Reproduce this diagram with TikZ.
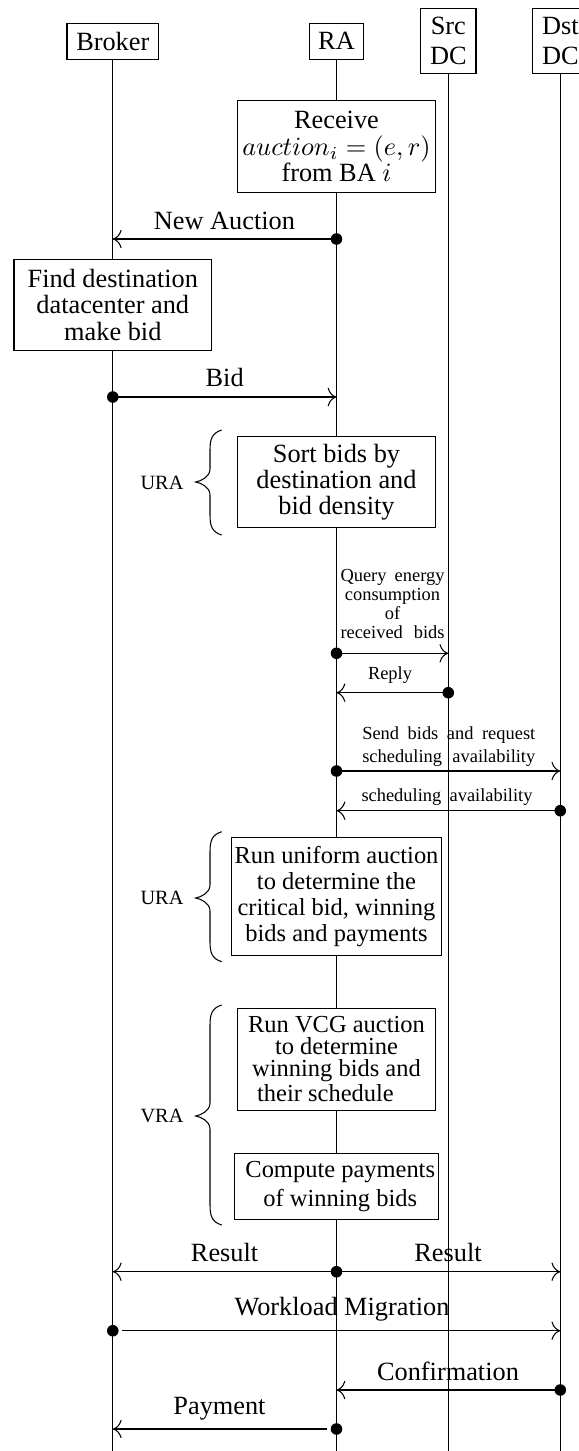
\documentclass[tikz,border=0pt]{standalone}
\usepackage{fontspec}
\setmainfont{Liberation Serif}
\usetikzlibrary{arrows.meta}
\newdimen\pxu
\pxu=0.38pt
% curly brace opening to the right: #1 top, #2 tip, #3 bottom (y values)
\newcommand\curlybrace[3]{%
  \draw[line width=0.4pt] (221.7,#1) .. controls (212,{#1+3}) and (210,{#1+9}) .. (210,{#1+20})
    -- (210,{#2-13}) .. controls (210,{#2-5}) and (201,{#2-1}) .. (195.7,#2)
    .. controls (201,{#2+1}) and (210,{#2+5}) .. (210,{#2+13})
    -- (210,{#3-20}) .. controls (210,{#3-9}) and (212,{#3-3}) .. (221.7,#3);}
\begin{document}
\begin{tikzpicture}[x=0.38pt,y=-0.38pt,
  box/.style={draw, fill=white, line width=0.4pt, inner sep=0pt, align=center,
              font=\fontsize{10}{10}\selectfont},
  hdr/.style={box, font=\fontsize{10}{11.5}\selectfont, minimum height=65*\pxu},
  life/.style={line width=0.4pt},
  msg/.style={-{To[scale=1.35]}, line width=0.4pt},
  lbl/.style={inner sep=0pt, anchor=base, font=\fontsize{10}{10}\selectfont},
  slbl/.style={inner sep=0pt, align=center, font=\fontsize{7}{7.2}\selectfont},
  blbl/.style={inner sep=0pt, font=\fontsize{7.7}{8}\selectfont}
]
\useasboundingbox (0,0) rectangle (579,1451);
\fill[white] (0,0) rectangle (579,1451);
\clip (0,0) rectangle (579,1451);

% participants
\node[box, minimum width=91.6*\pxu, minimum height=36*\pxu] (broker) at (112.8,41.3) {Broker};
\node[box, minimum width=54.2*\pxu, minimum height=36*\pxu] (ra) at (336.5,41.3) {RA};
\node[hdr, minimum width=55.4*\pxu] (src) at (448.3,40.8) {Src\\DC};
\node[hdr, minimum width=55.4*\pxu] (dst) at (560.3,40.8) {Dst\\DC};

% lifelines
\coordinate (bottom) at (0,1451);
\foreach \n in {broker,ra,src,dst} \draw[life] (\n.south) -- (\n.south |- bottom);

% activities
\node[box, minimum width=197.2*\pxu, minimum height=92*\pxu] (recv) at (336.5,146.7)
  {Receive\\$auction_i=(e,r)$\\from BA $i$};
\node[box, minimum width=197.6*\pxu, minimum height=91.7*\pxu] (find) at (112.8,304.9)
  {Find destination\\datacenter and\\make bid};
\node[box, minimum width=197.3*\pxu, minimum height=91*\pxu] (sort) at (336.5,482.2)
  {Sort bids by\\destination and\\bid density};
\node[box, font=\fontsize{9.3}{10}\selectfont, minimum width=210.7*\pxu, minimum height=118.4*\pxu] (unif) at (336.5,896.5)
  {Run uniform auction\\to determine the\hspace*{6.8pt}\\critical bid, winning\\bids and payments};
\node[box, font=\fontsize{9.3}{8.4}\selectfont, minimum width=197.3*\pxu, minimum height=101.7*\pxu] (vcg) at (336.5,1059.2)
  {Run VCG auction\\to determine\hspace*{8.4pt}\\winning bids and\\their schedule\hspace*{8.4pt}};
\node[box, font=\fontsize{9.3}{10.9}\selectfont, minimum width=204*\pxu, minimum height=65.7*\pxu] (pay) at (336.3,1186.2)
  {\hspace*{3pt}Compute payments\\\hspace*{3pt}of winning bids};

% phase braces
\curlybrace{430}{482}{535}
\node[blbl] (ura1) at (162,482.5) {URA};
\curlybrace{831.7}{898}{961.7}
\node[blbl] (ura2) at (162,898) {URA};
\curlybrace{1005}{1116}{1225}
\node[blbl] (vra) at (162,1116) {VRA};

% messages
\coordinate (m1r) at (ra.south |- 0,239);      \coordinate (m1b) at (broker.south |- 0,239);
\coordinate (m2b) at (broker.south |- 0,397);  \coordinate (m2r) at (ra.south |- 0,397);
\coordinate (m3r) at (ra.south |- 0,653.3);    \coordinate (m3s) at (src.south |- 0,653.3);
\coordinate (m4s) at (src.south |- 0,692.7);   \coordinate (m4r) at (ra.south |- 0,692.7);
\coordinate (m5r) at (ra.south |- 0,771);      \coordinate (m5d) at (dst.south |- 0,771);
\coordinate (m6d) at (dst.south |- 0,810.7);   \coordinate (m6r) at (ra.south |- 0,810.7);
\coordinate (m7r) at (ra.south |- 0,1271.7);   \coordinate (m7b) at (broker.south |- 0,1271.7);
\coordinate (m7d) at (dst.south |- 0,1271.7);
\coordinate (m8b) at (broker.south |- 0,1330.7); \coordinate (m8d) at (dst.south |- 0,1330.7);
\coordinate (m9d) at (dst.south |- 0,1390);    \coordinate (m9r) at (ra.south |- 0,1390);
\coordinate (m10r) at (ra.south |- 0,1429);    \coordinate (m10b) at (broker.south |- 0,1429);

\draw[msg] (m1r) -- (m1b);
\draw[msg] (m2b) -- (m2r);
\draw[msg] (m3r) -- (m3s);
\draw[msg] (m4s) -- (m4r);
\draw[msg] (m5r) -- (m5d);
\draw[msg] (m6d) -- (m6r);
\draw[msg] (m7r) -- (m7b);
\draw[msg] (m7r) -- (m7d);
\draw[msg, shorten <=3.5pt] (m8b) -- (m8d);
\draw[msg] (m9d) -- (m9r);
\draw[msg, shorten <=3.6pt] (m10r) -- (m10b);

\foreach \p in {m1r,m2b,m3r,m4s,m5r,m6d,m7r,m8b,m9d,m10r} \fill (\p) circle (2.2pt);

% message labels
\node[lbl] (t1) at (224.5,229.3) {New Auction};
\node[lbl] (t2) at (224.7,386.7) {Bid};
\node[slbl] (t3) at (392.5,604.3)
  {\makebox[104\pxu][s]{Query energy}\\consumption\\of\\\makebox[104\pxu][s]{received bids}};
\node[slbl, anchor=base] (t4) at (390,679.3) {Reply};
\node[slbl, font=\fontsize{7}{8.7}\selectfont] (t5) at (448.8,746.4)
  {\makebox[173\pxu][s]{Send bids and request}\\\makebox[173\pxu][s]{scheduling availability}};
\node[slbl, anchor=base] (t6) at (447,801.7) {\makebox[171\pxu][s]{scheduling availability}};
\node[lbl] (t7a) at (224.6,1261.7) {Result};
\node[lbl] (t7b) at (448,1261.7) {Result};
\node[lbl] (t8) at (342,1315) {Workload Migration};
\node[lbl] (t9) at (448,1380) {Confirmation};
\node[lbl] (t10) at (219.5,1414.3) {Payment};
\end{tikzpicture}
\end{document}
